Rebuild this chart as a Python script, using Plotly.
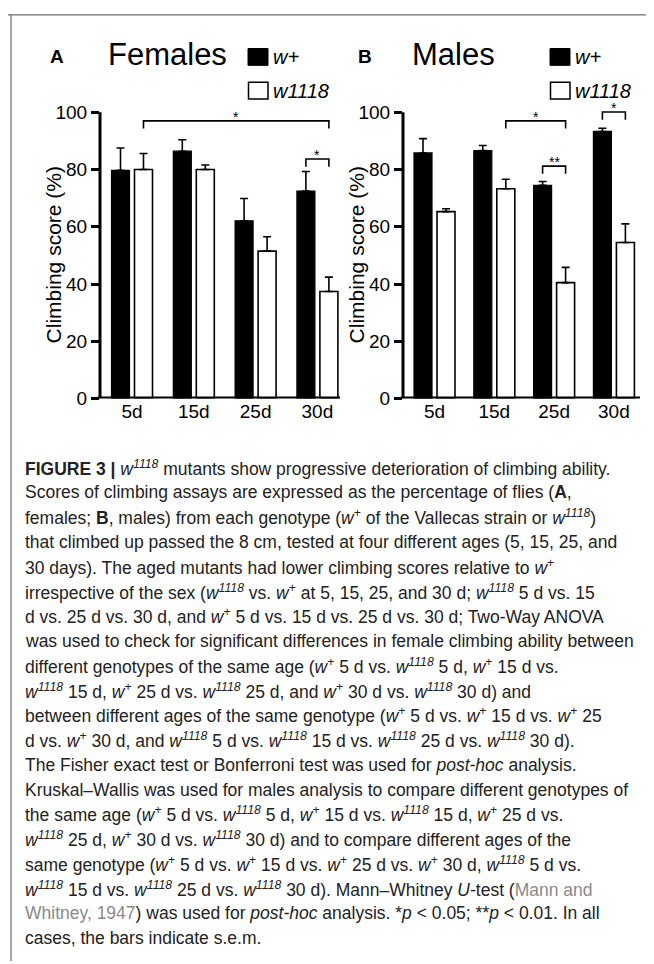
import plotly.graph_objects as go

# ---------------- data ----------------
ages = ["5d", "15d", "25d", "30d"]
fem_wplus = [79.7, 86.4, 62.1, 72.5]
fem_wplus_sem = [7.8, 4.0, 7.8, 6.8]
fem_w1118 = [80.0, 80.0, 51.5, 37.4]
fem_w1118_sem = [5.6, 1.6, 5.0, 5.0]
male_wplus = [85.8, 86.6, 74.5, 93.3]
male_wplus_sem = [5.0, 1.8, 1.3, 1.1]
male_w1118 = [65.3, 73.3, 40.5, 54.5]
male_w1118_sem = [1.0, 3.3, 5.3, 6.5]
y_ticks = [0, 20, 40, 60, 80, 100]

# significance brackets: (left bar, right bar, height, label); bar = (age index, genotype)
fem_brackets = [((0, "w1118"), (3, "w1118"), 97.0, "*"),
                ((3, "wplus"), (3, "w1118"), 83.7, "*")]
male_brackets = [((1, "w1118"), (2, "w1118"), 97.0, "*"),
                 ((2, "wplus"), (2, "w1118"), 81.2, "**"),
                 ((3, "wplus"), (3, "w1118"), 100.1, "*")]

# ---------------- layout helpers ----------------
W, H = 654, 964
def px(x):
    return x / W
def py(y):
    return 1 - y / H

Y0_PX = 395.0          # pixel row of y = 0
PX_PER_UNIT = 2.895    # pixels per % point
YMAX = 106
y_top_px = Y0_PX - YMAX * PX_PER_UNIT

panels = [
    dict(name="Females", letter="A", xa="x", ya="y", axis_px=92, end_px=332,
         c0=124.0, step=61.8, wplus=fem_wplus, wplus_sem=fem_wplus_sem,
         w1118=fem_w1118, w1118_sem=fem_w1118_sem, brackets=fem_brackets,
         letter_x=40, title_x=98, leg_x=240),
    dict(name="Males", letter="B", xa="x2", ya="y2", axis_px=395, end_px=632,
         c0=426.5, step=59.8, wplus=male_wplus, wplus_sem=male_wplus_sem,
         w1118=male_w1118, w1118_sem=male_w1118_sem, brackets=male_brackets,
         letter_x=348, title_x=402, leg_x=542),
]

BAR_PX = 18.0
OFF_PX = 11.5
CHART_FONT = "Liberation Sans, Arial, Helvetica, sans-serif"

fig = go.Figure()
shapes = []
annotations = []
xpos = list(range(len(ages)))

for i, p in enumerate(panels):
    bw = BAR_PX / p["step"]
    off = OFF_PX / p["step"]
    fig.add_trace(go.Bar(
        x=xpos, y=p["wplus"], width=bw, offset=-off - bw / 2,
        marker=dict(color="black", line=dict(color="black", width=1.2)),
        error_y=dict(type="data", symmetric=False, array=p["wplus_sem"],
                     arrayminus=[0] * len(ages), color="black", thickness=1.6, width=4),
        xaxis=p["xa"], yaxis=p["ya"], showlegend=False, name="w+"))
    fig.add_trace(go.Bar(
        x=xpos, y=p["w1118"], width=bw, offset=off - bw / 2,
        marker=dict(color="white", line=dict(color="black", width=1.6)),
        error_y=dict(type="data", symmetric=False, array=p["w1118_sem"],
                     arrayminus=[0] * len(ages), color="black", thickness=1.6, width=4),
        xaxis=p["xa"], yaxis=p["ya"], showlegend=False, name="w1118"))

    # significance brackets
    bx, by = [], []
    for (ga, gena), (gb, genb), h, lab in p["brackets"]:
        xa_ = ga + (-off if gena == "wplus" else off)
        xb_ = gb + (-off if genb == "wplus" else off)
        bx += [xa_, xa_, xb_, xb_, None]
        by += [h - 2.7, h, h, h - 2.7, None]
        annotations.append(dict(x=(xa_ + xb_) / 2, y=h, xref=p["xa"], yref=p["ya"],
                                text=lab, showarrow=False, yanchor="middle", yshift=4,
                                font=dict(family=CHART_FONT, size=14, color="black")))
    fig.add_trace(go.Scatter(x=bx, y=by, mode="lines", line=dict(color="black", width=1.6),
                             xaxis=p["xa"], yaxis=p["ya"], showlegend=False, hoverinfo="skip"))

    # axes lines (y only up to 100, x along the bottom)
    xdom_ref = ("x" if i == 0 else "x2") + " domain"
    shapes.append(dict(type="line", xref=xdom_ref, yref=p["ya"], x0=0, x1=0, y0=0, y1=100,
                       line=dict(color="black", width=3), layer="above"))
    shapes.append(dict(type="line", xref=xdom_ref, yref=p["ya"], x0=-0.01, x1=1, y0=0, y1=0,
                       line=dict(color="black", width=4), layer="above"))

    # y title
    annotations.append(dict(x=px(p["axis_px"] - 47), y=50, xref="paper", yref=p["ya"],
                            text="Climbing score (%)", textangle=-90, showarrow=False,
                            xanchor="center", yanchor="middle",
                            font=dict(family=CHART_FONT, size=21, color="black")))
    # panel letter and title
    annotations.append(dict(x=px(p["letter_x"]), y=py(49), xref="paper", yref="paper",
                            text="<b>" + p["letter"] + "</b>", showarrow=False,
                            xanchor="left", yanchor="middle",
                            font=dict(family=CHART_FONT, size=19, color="black")))
    annotations.append(dict(x=px(p["title_x"]), y=py(47), xref="paper", yref="paper",
                            text=p["name"], showarrow=False, xanchor="left", yanchor="middle",
                            font=dict(family=CHART_FONT, size=31, color="black")))
    # legend
    lx = p["leg_x"]
    shapes.append(dict(type="rect", xref="paper", yref="paper", x0=px(lx), x1=px(lx + 20),
                       y0=py(58), y1=py(41), fillcolor="black", line=dict(color="black", width=1)))
    shapes.append(dict(type="rect", xref="paper", yref="paper", x0=px(lx + 0.5), x1=px(lx + 20),
                       y0=py(92), y1=py(75), fillcolor="white", line=dict(color="black", width=1.5)))
    annotations.append(dict(x=px(lx + 23), y=py(50), xref="paper", yref="paper",
                            text="<i>w+</i>", showarrow=False, xanchor="left", yanchor="middle",
                            font=dict(family=CHART_FONT, size=20, color="black")))
    annotations.append(dict(x=px(lx + 23), y=py(84), xref="paper", yref="paper",
                            text="<i>w1118</i>", showarrow=False, xanchor="left", yanchor="middle",
                            font=dict(family=CHART_FONT, size=20, color="black")))

    xr = [(p["axis_px"] - p["c0"]) / p["step"], (p["end_px"] - p["c0"]) / p["step"]]
    xaxis = dict(domain=[px(p["axis_px"]), px(p["end_px"])], range=xr,
                 tickvals=xpos, ticktext=ages, showgrid=False, zeroline=False,
                 showline=False, ticks="", fixedrange=True,
                 tickfont=dict(family=CHART_FONT, size=19, color="black"))
    yaxis = dict(domain=[py(Y0_PX), py(y_top_px)], range=[0, YMAX],
                 tickvals=y_ticks, ticktext=[str(v) for v in y_ticks],
                 showgrid=False, zeroline=False, showline=False,
                 ticks="outside", ticklen=8, tickwidth=3, tickcolor="black",
                 tickfont=dict(family=CHART_FONT, size=19, color="black"))
    if i == 0:
        fig.update_layout(xaxis=xaxis, yaxis=yaxis)
    else:
        xaxis["anchor"] = "y2"
        yaxis["anchor"] = "x2"
        fig.update_layout(xaxis2=xaxis, yaxis2=yaxis)

# ---------------- caption ----------------
w18 = "<i>w<sup>1118</sup></i>"
wp = "<i>w</i><sup>+</sup>"
def gray(t):
    return "<span style='color:#8a8a8a'>" + t + "</span>"

caption_lines = [
    "<b>FIGURE 3 |</b> " + w18 + " mutants show progressive deterioration of climbing ability.",
    "Scores of climbing assays are expressed as the percentage of flies (<b>A</b>,",
    "females; <b>B</b>, males) from each genotype (" + wp + " of the Vallecas strain or " + w18 + ")",
    "that climbed up passed the 8 cm, tested at four different ages (5, 15, 25, and",
    "30 days). The aged mutants had lower climbing scores relative to " + wp,
    "irrespective of the sex (" + w18 + " vs. " + wp + " at 5, 15, 25, and 30 d; " + w18 + " 5 d vs. 15",
    "d vs. 25 d vs. 30 d, and " + wp + " 5 d vs. 15 d vs. 25 d vs. 30 d; Two-Way ANOVA",
    "was used to check for significant differences in female climbing ability between",
    "different genotypes of the same age (" + wp + " 5 d vs. " + w18 + " 5 d, " + wp + " 15 d vs.",
    w18 + " 15 d, " + wp + " 25 d vs. " + w18 + " 25 d, and " + wp + " 30 d vs. " + w18 + " 30 d) and",
    "between different ages of the same genotype (" + wp + " 5 d vs. " + wp + " 15 d vs. " + wp + " 25",
    "d vs. " + wp + " 30 d, and " + w18 + " 5 d vs. " + w18 + " 15 d vs. " + w18 + " 25 d vs. " + w18 + " 30 d).",
    "The Fisher exact test or Bonferroni test was used for <i>post-hoc</i> analysis.",
    "Kruskal–Wallis was used for males analysis to compare different genotypes of",
    "the same age (" + wp + " 5 d vs. " + w18 + " 5 d, " + wp + " 15 d vs. " + w18 + " 15 d, " + wp + " 25 d vs.",
    w18 + " 25 d, " + wp + " 30 d vs. " + w18 + " 30 d) and to compare different ages of the",
    "same genotype (" + wp + " 5 d vs. " + wp + " 15 d vs. " + wp + " 25 d vs. " + wp + " 30 d, " + w18 + " 5 d vs.",
    w18 + " 15 d vs. " + w18 + " 25 d vs. " + w18 + " 30 d). Mann–Whitney <i>U</i>-test (" + gray("Mann and"),
    gray("Whitney, 1947") + ") was used for <i>post-hoc</i> analysis. *<i>p</i> &lt; 0.05; **<i>p</i> &lt; 0.01. In all",
    "cases, the bars indicate s.e.m.",
]
CAP_FONT = "Liberation Sans, Arial, sans-serif"
CAP_Y0 = 465.0
CAP_STEP = 25.05
for k, line in enumerate(caption_lines):
    annotations.append(dict(x=px(15), y=py(CAP_Y0 + CAP_STEP * k), xref="paper", yref="paper",
                            text=line, showarrow=False, xanchor="left", yanchor="middle",
                            align="left",
                            font=dict(family=CAP_FONT, size=17.5, color="#222222")))

# frame lines
shapes.append(dict(type="line", xref="paper", yref="paper", x0=0, x1=1, y0=py(7), y1=py(7),
                   line=dict(color="#6e6e6e", width=1.2)))
shapes.append(dict(type="line", xref="paper", yref="paper", x0=px(3), x1=px(3), y0=py(7), y1=0,
                   line=dict(color="#6e6e6e", width=1.2)))

fig.update_layout(width=W, height=H, margin=dict(l=0, r=0, t=0, b=0),
                  paper_bgcolor="white", plot_bgcolor="rgba(0,0,0,0)",
                  shapes=shapes, annotations=annotations, barmode="overlay",
                  font=dict(family=CHART_FONT, color="black"))

fig.write_html("out.html")
